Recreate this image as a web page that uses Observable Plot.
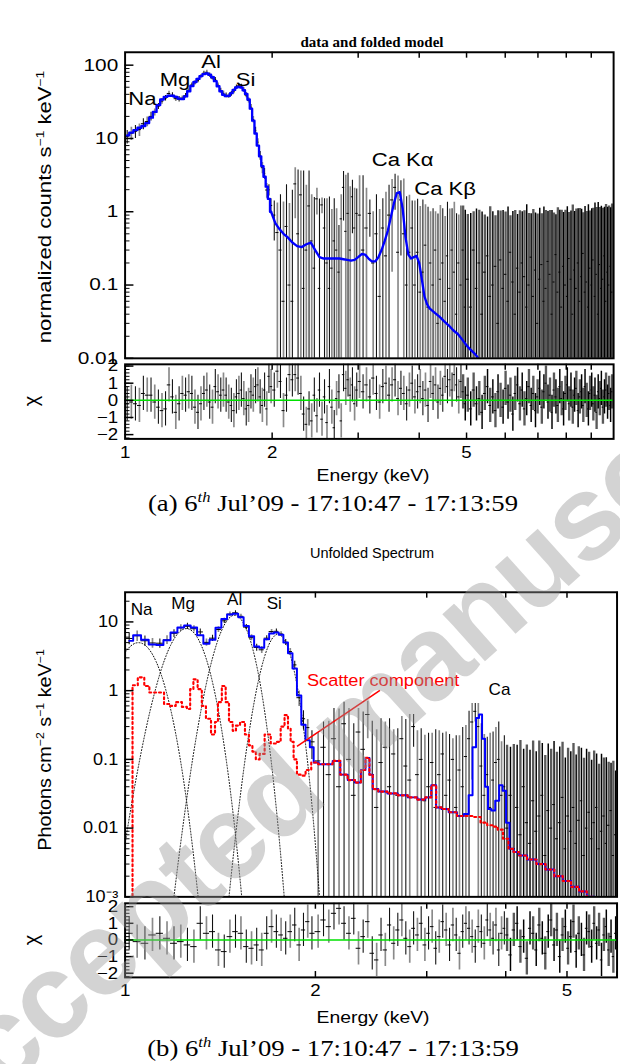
<!DOCTYPE html>
<html>
<head>
<meta charset="utf-8">
<script src="https://cdn.jsdelivr.net/npm/d3@7"></script>
<script src="https://cdn.jsdelivr.net/npm/@observablehq/plot@0.6"></script>
<style>
html, body { margin:0; padding:0; background:#fff; overflow:hidden; }
#page { position:relative; width:620px; height:1064px; overflow:hidden; background:#fff;
  font-family:"Liberation Sans", Arial, Helvetica, sans-serif; color:#000; }
.t { position:absolute; white-space:nowrap; line-height:1; }
.cap { font-family:"Liberation Serif","DejaVu Serif",serif; font-size:23px; }
sup { font-size:62%; vertical-align:0.6em; line-height:0; }
.wm { position:absolute; white-space:nowrap; font-family:"Liberation Sans", Arial, sans-serif; font-weight:bold;
  font-size:120px; letter-spacing:-2px; line-height:1; color:rgba(150,150,150,0.42); transform-origin:0 0; transform:rotate(-41.9deg); pointer-events:none; }
</style>
</head>
<body>
<div id="page"></div>
<script>
// ================= DATA : panel (a) "data and folded model" =================
// 1-2 keV bins
const eAlo = [1.01,1.03,1.05,1.07,1.09,1.11,1.13,1.15,1.17,1.19,1.21,1.23,1.25,1.27,1.29,1.31,1.33,1.35,1.37,1.39,1.41,1.43,1.45,1.47,1.49,1.51,1.53,1.55,1.57,1.59,1.61,1.63,1.65,1.67,1.69,1.71,1.73,1.75,1.77,1.79,1.81,1.83,1.85,1.87,1.89,1.91,1.93,1.95,1.97,1.99];
const rAlo = [10.6,11.8,12.5,13.2,15.9,17.0,20.0,22.7,27.5,32.3,35.5,41.1,38.9,34.9,34.4,35.5,38.3,45.5,53.4,57.4,62.0,70.1,77.5,80.0,73.5,66.7,63.9,53.3,45.0,41.3,38.7,37.9,40.6,44.0,50.2,52.4,51.5,45.8,39.0,33.2,26.7,18.1,12.8,8.9,5.86,3.99,3.33,1.98,1.99,1.22];
const dAlo = [2.2,2.4,2.5,2.6,2.7,2.6,2.7,2.5,2.6,2.9,3.0,3.1,3.1,3.0,2.9,2.6,2.7,3.1,3.5,3.9,4.3,4.6,4.9,5.0,4.9,4.6,4.2,3.7,3.3,3.0,2.9,2.9,3.0,3.3,3.4,3.5,3.4,3.3,3.0,2.7,2.4,1.9,1.4,1.0,0.8,0.7,0.55,0.45,0.35,0.28];
const cAlo = [-0.2,-0.1,-0.2,-0.3,0.4,0.3,0.3,-0.1,-0.4,-0.6,-0.5,0.9,0.2,-0.7,-0.2,0.4,0.3,0.5,0.4,-0.4,-0.7,-0.2,0.4,0.6,-0.1,-0.4,0.8,0.5,0.3,0.6,0.3,-0.1,-0.3,-0.6,0.2,0.4,0.6,0.1,-0.5,-0.3,0.5,0.3,0.8,0.9,0.2,-0.3,0.6,-0.5,1.4,0.8];
const mAlo = [11.0,12.0,13.0,14.0,14.8,16.2,19.2,23,28.5,34,37,38.3,38.3,37,35,34.5,37.5,44,52,59,65,71,75.5,77,74,68.5,60.5,51.5,44,39.5,37.8,38.2,41.5,46,49.5,51,49.5,45.5,40.5,34,25.5,17.5,11.7,8.0,5.7,4.2,3.0,2.2,1.5,1.0];
// 2-10 keV bins
const eAhi = [2.02,2.05,2.08,2.11,2.14,2.17,2.20,2.23,2.26,2.29,2.32,2.35,2.38,2.41,2.44,2.47,2.50,2.53,2.56,2.59,2.62,2.65,2.68,2.71,2.74,2.77,2.80,2.83,2.86,2.89,2.92,2.95,2.98,
  3.02,3.07,3.12,3.17,3.22,3.27,3.32,3.37,3.42,3.47,3.52,3.57,3.62,3.67,3.72,3.77,3.82,3.87,3.92,3.97,4.02,4.07,4.12,4.17,4.22,4.27,4.32,4.37,4.42,4.47,4.52,4.57,4.62,4.67,4.72,4.77,4.82,4.87,4.92,4.97,
  5.03,5.10,5.17,5.24,5.31,5.38,5.45,5.52,5.59,5.66,5.73,5.80,5.87,5.94,6.01,6.08,6.15,6.22,6.29,6.36,6.43,6.50,6.57,6.64,6.71,6.78,6.85,6.92,6.99,7.06,7.13,7.20,7.27,7.34,7.41,7.48,7.55,7.62,7.69,7.76,7.83,7.90,7.97,8.04,8.11,8.18,8.25,8.32,8.39,8.46,8.53,8.60,8.67,8.74,8.81,8.88,8.95,9.02,9.09,9.16,9.23,9.30,9.37,9.44,9.51,9.58,9.65,9.72,9.79,9.86,9.93];
const rAhi = [0.9,0.52,0.3,0.06,0.63,0.1,0.06,2.4,0.5,1.7,0.09,0.3,1.2,0.4,0.17,1.5,0.09,1.24,0.6,0.2,0.09,0.17,0.4,0.3,0.15,0.8,2.15,0.54,0.95,0.3,1.6,0.6,0.95,
  0.9,0.3,0.6,0.95,0.2,0.5,0.07,0.6,0.25,0.9,1.45,2.15,0.28,1.45,0.5,0.1,0.28,0.6,0.1,0.28,0.08,0.15,0.35,0.05,0.2,0.1,0.3,0.03,0.12,0.2,0.06,0.25,0.09,0.3,0.15,0.04,0.2,0.1,0.3,0.05,
  0.12,0.05,0.3,0.09,0.2,0.04,0.15,0.25,0.07,0.1,0.18,0.03,0.22,0.09,0.14,0.06,0.28,0.11,0.04,0.17,0.08,0.2,0.13,0.05,0.1,0.24,0.07,0.16,0.03,0.12,0.19,0.06,0.09,0.21,0.14,0.04,0.11,0.26,0.08,0.15,0.05,0.18,0.1,0.07,0.23,0.12,0.04,0.16,0.09,0.2,0.06,0.13,0.27,0.08,0.11,0.05,0.17,0.1,0.22,0.07,0.14,0.04,0.19,0.09,0.12,0.25,0.06,0.15,0.1,0.18,0.08];
const dAhi = [0.5,0.8,1.4,1.3,1.7,1.2,1.9,1.6,3.2,1.9,3.5,2.0,2.4,1.3,1.4,0.6,1.4,0.3,0.9,1.3,1.5,0.9,1.1,0.8,0.5,0.9,1.4,2.6,2.4,1.9,1.1,1.5,1.1,
  2.2,2.8,1.5,0.5,0.8,1.2,1.0,0.9,1.6,1.4,1.3,1.1,2.8,1.2,2.3,1.5,1.4,0.8,1.3,1.2,1.1,1.3,0.9,1.1,0.8,1.0,0.7,0.9,1.1,0.9,0.8,1.1,1.0,0.8,1.2,0.9,0.7,1.1,0.9,1.0,
  0.8,0.9,0.7,1.0,0.85,0.95,0.75,0.6,1.1,0.9,0.7,1.0,0.8,0.95,0.85,1.1,0.6,0.9,1.0,0.75,0.95,0.8,0.9,1.2,0.85,0.7,1.0,0.8,0.9,1.0,0.75,1.1,0.95,0.8,0.9,1.0,0.85,0.65,1.05,0.9,1.0,0.8,0.95,1.1,0.75,0.9,1.2,0.85,1.0,0.9,1.05,0.95,0.7,1.1,0.9,1.2,0.85,1.0,0.9,1.25,1.0,1.3,0.95,1.1,1.0,0.9,1.2,1.0,1.1,0.95,1.2];
const cAhi = [0.6,1.7,1.1,-0.6,0.3,1.5,1.2,1.5,1.3,0.4,-0.8,-1.4,-0.5,-1.2,0.3,-0.9,0.6,-1.1,0.2,-1.3,0.8,-0.4,-1.6,0.1,0.5,-1.2,1.5,0.7,1.2,0.3,0.9,-0.2,0.6,
  1.1,0.5,0.9,0.2,1.3,0.4,-0.1,0.8,1.0,0.3,0.9,1.2,0.1,0.7,0.4,-0.2,0.6,1.0,0.2,0.5,0.8,0.1,0.6,-0.3,1.1,0.4,0.9,-0.1,0.7,0.3,1.4,0.8,1.2,0.6,1.5,0.9,0.2,1.1,0.5,-0.2,
  0.3,-0.5,0.6,-0.2,0.1,-0.7,0.4,0.8,-0.3,0.2,-0.6,0.5,0.0,-0.4,0.7,-0.1,0.3,-0.8,0.4,0.9,-0.2,0.6,-0.5,0.1,0.8,-0.3,0.4,-0.6,0.2,0.7,-0.4,0.5,1.0,-0.1,0.3,-0.7,0.6,0.2,-0.3,0.8,0.1,-0.5,0.4,0.9,-0.2,0.6,-0.4,0.3,0.7,-0.6,0.2,0.5,-0.3,0.8,0.0,-0.5,0.4,0.6,-0.2,0.3,-0.7,0.5,0.1,0.7,-0.4,0.2,0.6,-0.1,0.4,-0.3,0.5];
// folded model above 2 keV
const mAhiE = [2.03,2.07,2.11,2.15,2.20,2.25,2.30,2.35,2.40,2.45,2.50,2.55,2.60,2.65,2.70,2.75,2.80,2.85,2.90,2.95,3.00,3.05,3.10,3.15,3.20,3.25,3.30,3.35,3.40,3.45,3.50,3.55,3.60,3.65,3.70,3.75,3.80,3.85,3.90,3.95,4.00,4.05,4.10,4.15,4.20,4.30,4.40,4.50,4.60,4.70,4.80,4.90,5.00,5.10,5.20,5.30,5.40];
const mAhiV = [0.7,0.58,0.5,0.45,0.38,0.34,0.33,0.36,0.38,0.3,0.24,0.23,0.23,0.23,0.23,0.23,0.225,0.22,0.215,0.22,0.24,0.265,0.26,0.23,0.21,0.21,0.24,0.3,0.4,0.55,0.85,1.3,1.8,1.85,1.1,0.45,0.26,0.23,0.24,0.25,0.2,0.12,0.07,0.055,0.048,0.042,0.037,0.032,0.028,0.024,0.0215,0.018,0.015,0.013,0.0115,0.0098,0.0085];
const labelsA = [{t:"Na",E:1.085,v:34},{t:"Mg",E:1.265,v:63},{t:"Al",E:1.50,v:110},{t:"Si",E:1.765,v:63},{t:"Ca K\u03b1",E:3.70,v:5.05},{t:"Ca K\u03b2",E:4.52,v:2.0}];
const yTicksA = [0.01,0.1,1,10,100];
const xTicksA = [2,3,4,5,6,7,8,9];
const xLabelsA = [1,2,5];
const chiTicks = [-2,-1,0,1,2];

// ================= DATA : panel (b) "Unfolded Spectrum" =================
const eBlo = [1.015,1.045,1.075,1.105,1.135,1.165,1.195,1.225,1.255,1.285,1.315,1.345,1.375,1.405,1.435,1.465,1.495,1.525,1.555,1.585,1.615,1.645,1.675,1.705,1.735,1.765,1.795,1.825,1.855,1.885,1.915,1.945,1.975];
const rBlo = [5.74,6.29,5.32,4.94,4.9,5.48,6.82,8.21,8.63,7.96,7.15,5.04,5.8,7.75,10.37,12.99,13.58,12.06,8.4,5.9,4.25,3.93,5.8,7.24,7.3,6.67,5.05,3.7,2.37,0.79,0.39,0.29,0.18];
const dBlo = [1.1,1.1,0.9,0.8,0.75,0.8,0.9,0.9,0.9,0.85,0.75,0.6,0.6,0.75,0.9,0.95,0.95,0.9,0.75,0.6,0.5,0.45,0.5,0.55,0.6,0.55,0.5,0.4,0.3,0.2,0.12,0.09,0.08];
const cBlo = [0.4,-0.1,-0.2,0.3,0.4,0.1,-0.2,-0.1,-0.3,-0.4,1.0,0.4,0.5,-0.6,-0.7,0.2,0.5,0.4,-0.4,-0.5,-0.3,-0.6,0.4,0.8,0.5,0.3,0.1,0.5,0.9,-0.3,0.6,1.1,0.4];
const mBlo = [5.3,6.4,5.5,4.7,4.6,5.4,7.0,8.3,8.9,8.3,6.4,4.8,5.5,8.2,11.0,12.8,13.1,11.7,8.7,6.2,4.4,4.2,5.6,6.8,7.0,6.5,5.0,3.5,2.1,0.85,0.32,0.19,0.15];
const eBhi = [2.02,2.06,2.10,2.14,2.18,2.22,2.26,2.30,2.34,2.38,2.42,2.46,2.50,2.54,2.58,2.62,2.66,2.70,2.74,2.78,2.82,2.86,2.90,2.94,2.98,
  3.02,3.06,3.10,3.14,3.18,3.22,3.26,3.30,3.34,3.38,3.42,3.46,3.50,3.54,3.58,3.62,3.66,3.70,3.74,3.78,3.82,3.86,3.90,3.94,3.98,
  4.02,4.07,4.12,4.17,4.22,4.27,4.32,4.37,4.42,4.47,4.52,4.57,4.62,4.67,4.72,4.77,4.82,4.87,4.92,4.97,5.02,5.07,5.12,5.17,5.22,5.27,5.32,5.37,5.42,5.47,5.52,5.57,5.62,5.67,5.72,5.77,5.82,5.87,5.92,5.97];
const rBhi = [0.095,0.15,0.06,0.2,0.04,0.33,0.1,0.03,0.25,0.14,0.45,0.06,0.02,0.09,0.15,0.04,0.12,0.03,0.2,0.08,0.05,0.3,0.06,0.1,0.025,
  0.04,0.09,0.02,0.06,0.12,0.03,0.05,0.1,0.02,0.07,0.04,0.11,0.2,0.35,0.5,0.3,0.08,0.03,0.06,0.02,0.05,0.09,0.1,0.03,0.04,
  0.01,0.03,0.005,0.02,0.008,0.04,0.012,0.006,0.025,0.009,0.015,0.03,0.004,0.018,0.01,0.022,0.007,0.012,0.028,0.005,0.015,0.009,0.02,0.006,0.013,0.025,0.004,0.01,0.017,0.007,0.012,0.02,0.005,0.009,0.015,0.006,0.011,0.018,0.004,0.008];
const dBhi = [0.15,0.2,0.3,0.35,0.5,0.35,0.45,0.3,0.3,0.35,0.25,0.3,0.25,0.3,0.2,0.35,0.15,0.25,0.22,0.3,0.4,0.15,0.2,0.18,0.2,
  0.2,0.15,0.25,0.2,0.12,0.22,0.18,0.1,0.2,0.15,0.25,0.2,0.3,0.3,0.15,0.35,0.25,0.2,0.15,0.22,0.2,0.2,0.25,0.15,0.18,
  0.15,0.12,0.16,0.14,0.18,0.1,0.15,0.13,0.16,0.12,0.17,0.14,0.11,0.15,0.13,0.16,0.12,0.14,0.15,0.1,0.13,0.12,0.15,0.11,0.14,0.12,0.1,0.13,0.11,0.09,0.12,0.1,0.08,0.11,0.09,0.1,0.08,0.07,0.09,0.06];
const cBhi = [0.5,1.2,0.8,1.6,1.9,1.0,0.4,1.3,-0.5,0.2,1.1,-0.8,-1.2,0.3,-0.6,0.9,-0.2,0.6,1.2,0.1,-0.4,0.7,0.3,1.0,-0.3,
  0.4,0.8,-0.5,0.2,1.1,0.6,-0.3,0.9,0.3,-0.8,0.5,1.0,0.7,0.2,-0.4,0.8,0.5,-0.2,1.2,0.6,0.1,0.9,-0.6,0.4,0.7,
  0.3,-0.9,0.6,1.0,-0.4,0.2,-1.1,0.7,0.4,-0.6,0.9,0.1,-0.8,0.5,1.2,-0.3,0.6,-1.0,0.3,0.8,-0.5,0.2,1.1,-0.7,0.4,0.0,-0.9,0.7,0.5,-0.4,1.0,-0.2,0.6,-1.2,0.3,0.8,-0.6,0.2,-1.0,0.4];
const mBhiE = [2.00,2.05,2.10,2.16,2.22,2.28,2.34,2.38,2.42,2.45,2.48,2.55,2.65,2.75,2.85,2.95,3.02,3.08,3.13,3.20,3.30,3.40,3.47,3.52,3.57,3.61,3.65,3.69,3.73,3.77,3.82,3.88,3.93,3.98,4.03,4.08,4.15,4.25,4.40,4.55,4.70,4.85,5.00,5.15,5.30,5.45,5.60,5.75,5.90];
const mBhiV = [0.09,0.085,0.085,0.095,0.06,0.05,0.046,0.07,0.105,0.06,0.037,0.034,0.032,0.03,0.028,0.026,0.028,0.042,0.02,0.019,0.017,0.015,0.016,0.03,0.15,0.4,0.45,0.2,0.04,0.019,0.018,0.025,0.042,0.035,0.012,0.005,0.0045,0.004,0.0035,0.003,0.0025,0.002,0.0017,0.0014,0.0012,0.001,0.00085,0.0007,0.0006];
// scatter component (red dotted)
const scatE = [1.02,1.035,1.06,1.085,1.10,1.14,1.165,1.19,1.215,1.245,1.26,1.275,1.29,1.315,1.33,1.355,1.38,1.395,1.41,1.435,1.45,1.47,1.49,1.505,1.535,1.56,1.58,1.60,1.62,1.645,1.68,1.72,1.75,1.775,1.80,1.82,1.835,1.86,1.88,1.91,1.95,1.99,
  2.05,2.10,2.16,2.22,2.28,2.34,2.38,2.42,2.45,2.48,2.55,2.65,2.75,2.85,2.95,3.02,3.08,3.13,3.20,3.30,3.40,3.50,3.60,3.70,3.78,3.85,3.92,4.00,4.08,4.15,4.25,4.40,4.55,4.70,4.85,5.00,5.15,5.30,5.45,5.60,5.75,5.90];
const scatV = [0.0008,1.2,1.56,1.17,0.94,0.94,0.64,0.6,0.68,0.58,0.54,1.05,1.46,1.05,0.6,0.39,0.23,0.35,0.68,1.17,0.68,0.35,0.26,0.31,0.35,0.23,0.16,0.13,0.1,0.12,0.23,0.17,0.18,0.3,0.44,0.28,0.18,0.1,0.06,0.058,0.07,0.09,
  0.085,0.085,0.095,0.06,0.05,0.046,0.07,0.105,0.06,0.037,0.034,0.032,0.03,0.028,0.026,0.028,0.042,0.02,0.019,0.017,0.015,0.015,0.0145,0.012,0.011,0.0105,0.0095,0.007,0.005,0.0045,0.004,0.0035,0.003,0.0025,0.002,0.0017,0.0014,0.0012,0.001,0.00085,0.0007,0.0006];
// line components (black dotted): [energy, photons]
const naComp = [[1.00,3.6],[1.02,4.44],[1.04,4.93],[1.06,4.93],[1.08,4.44],[1.10,3.6],[1.12,2.63],[1.14,1.73],[1.16,1.02],[1.18,0.544],[1.20,0.261],[1.22,0.113],[1.24,0.0438],[1.26,0.0153],[1.28,0.00483],[1.30,0.00137],[1.32,0.00035]];
const mgComp = [[1.00,0.006],[1.02,0.0181],[1.04,0.0499],[1.06,0.125],[1.08,0.287],[1.10,0.6],[1.12,1.14],[1.14,1.99],[1.16,3.15],[1.18,4.55],[1.20,6.0],[1.22,7.21],[1.24,7.91],[1.26,7.91],[1.28,7.21],[1.30,6.0],[1.32,4.55],[1.34,3.15],[1.36,1.99],[1.38,1.14],[1.40,0.6],[1.42,0.287],[1.44,0.125],[1.46,0.0499],[1.48,0.0181],[1.50,0.006],[1.52,0.00181],[1.54,0.0005]];
const alComp = [[1.18,0.00038],[1.20,0.00139],[1.22,0.00469],[1.24,0.0144],[1.26,0.0408],[1.28,0.106],[1.30,0.251],[1.32,0.548],[1.34,1.10],[1.36,2.01],[1.38,3.37],[1.40,5.20],[1.42,7.36],[1.44,9.54],[1.46,11.3],[1.48,12.4],[1.50,12.4],[1.52,11.3],[1.54,9.54],[1.56,7.36],[1.58,5.20],[1.60,3.37],[1.62,2.01],[1.64,1.10],[1.66,0.548],[1.68,0.251],[1.70,0.106],[1.72,0.0408],[1.74,0.0144],[1.76,0.00469],[1.78,0.00139],[1.80,0.00038]];
const siComp = [[1.44,0.00028],[1.46,0.001],[1.48,0.0033],[1.50,0.00996],[1.52,0.0275],[1.54,0.0699],[1.56,0.163],[1.58,0.346],[1.60,0.678],[1.62,1.22],[1.64,2.0],[1.66,3.02],[1.68,4.18],[1.70,5.3],[1.72,6.17],[1.74,6.59],[1.76,6.44],[1.78,5.78],[1.80,4.76],[1.82,3.59],[1.84,2.48],[1.86,1.58],[1.88,0.918],[1.90,0.49],[1.92,0.24],[1.94,0.108],[1.96,0.0443],[1.98,0.0167],[2.00,0.0058],[2.02,0.00184],[2.04,0.00054]];
const labelsB = [{t:"Na",E:1.062,v:14.9},{t:"Mg",E:1.235,v:18.2},{t:"Al",E:1.49,v:20.7},{t:"Si",E:1.722,v:18.2},{t:"Ca",E:3.91,v:1.04}];
const scatterLabel = [{t:"Scatter component",E:2.56,v:1.40}];
const scatterArrow = [{E1:1.87,v1:0.155,E2:2.53,v2:1.01}];
const yTicksB = [0.001,0.01,0.1,1,10];
const xTicksB = [2,3,4,5,6];
const xLabelsB = [1,2,5];

// ================= DRAWING =================
const page = document.getElementById("page");
const FONT = '"Liberation Sans", Arial, Helvetica, sans-serif';
const fmt = d3.format("~g");
const W = 632;

function addText(html, x, y, opts) {
  const {rot = false, sx = 1, style = {}, cls = ""} = opts || {};
  const d = document.createElement("div");
  d.className = "t " + cls;
  d.innerHTML = html;
  d.style.left = x + "px"; d.style.top = y + "px";
  d.style.transform = "translate(-50%,-50%)" + (rot ? " rotate(-90deg)" : "") + " scaleX(" + sx + ")";
  Object.assign(d.style, style);
  page.appendChild(d);
}
function addPlot(svg, top) {
  svg.style.position = "absolute"; svg.style.left = "0px"; svg.style.top = top + "px";
  page.appendChild(svg);
}
// widen the glyphs of the plot texts (the reference typeface is wider than Liberation Sans)
function stretch(svg, k) {
  svg.querySelectorAll("text").forEach(t => {
    let L = 0;
    try { L = t.getComputedTextLength(); } catch (e) { L = 0; }
    if (L > 0) { t.setAttribute("textLength", (L * k).toFixed(1)); t.setAttribute("lengthAdjust", "spacingAndGlyphs"); }
  });
}
function mkRows(E, R, D, C) {
  return E.map((e, i) => {
    const lo = i > 0 ? Math.sqrt(E[i - 1] * e) : e / Math.sqrt(E[i + 1] / e);
    const hi = i < E.length - 1 ? Math.sqrt(e * E[i + 1]) : e * Math.sqrt(e / E[i - 1]);
    return {E: e, r: R[i], d: D[i], c: C[i], lo, hi, k: i};
  });
}
function logMinors(decades, lo, hi) {
  const out = [];
  for (const d of decades) for (let m = 2; m < 10; m++) { const v = d * m; if (v > lo && v < hi) out.push(+v.toPrecision(3)); }
  return out;
}
function chiMinors(lo, hi) { const out = []; for (let v = -2.2; v <= 2.21; v += 0.2) if (v > lo && v < hi) out.push(+v.toFixed(1)); return out; }

function errBars(rows, yDomMin, field, denseFrom) {
  const y1 = field === "c" ? (d => d.c - 1) : (d => Math.max(d.r - d.d, yDomMin / 20));
  const y2 = field === "c" ? (d => d.c + 1) : (d => d.r + d.d);
  const sparse = rows.filter(d => d.E < denseFrom), dense = rows.filter(d => d.E >= denseFrom);
  return [
    Plot.ruleX(sparse.filter(d => d.k % 2), {x: "E", y1, y2, stroke: "#8a8a8a", strokeWidth: 1.7, clip: true}),
    Plot.ruleX(sparse.filter(d => !(d.k % 2)), {x: "E", y1, y2, stroke: "#111", strokeWidth: 1.1, clip: true}),
    Plot.ruleX(dense.filter(d => d.k % 2), {x: "E", y1, y2, stroke: "#5a5a5a", strokeWidth: 2.4, clip: true}),
    Plot.ruleX(dense.filter(d => !(d.k % 2)), {x: "E", y1, y2, stroke: "#000", strokeWidth: 1.5, clip: true}),
    Plot.ruleY(rows, {y: field, x1: "lo", x2: "hi", stroke: "#000", strokeWidth: 1, clip: true})
  ];
}
function edgeTicks(fw, fh, xt, yMaj, yMin, top, bottom) {
  const m = [
    Plot.ruleY(yMaj, {y: d => d, insetRight: fw - 9, stroke: "#000", strokeWidth: 1.5}),
    Plot.ruleY(yMin, {y: d => d, insetRight: fw - 5, stroke: "#000", strokeWidth: 1})
  ];
  if (top) m.push(Plot.ruleX(xt, {x: d => d, insetBottom: fh - 6, stroke: "#000", strokeWidth: 1.5}));
  if (bottom) m.push(Plot.ruleX(xt, {x: d => d, insetTop: fh - 6, stroke: "#000", strokeWidth: 1.5}));
  return m;
}
const styleSvg = {background: "transparent", overflow: "visible", fontFamily: FONT};

// ---------- panel (a) ----------
const rowsA = mkRows(eAlo.concat(eAhi), rAlo.concat(rAhi), dAlo.concat(dAhi), cAlo.concat(cAhi));
const modelALo = eAlo.map((e, i) => ({E: e, v: mAlo[i]}));
const modelAHi = [{E: eAlo[eAlo.length - 1], v: mAlo[mAlo.length - 1]}].concat(mAhiE.map((e, i) => ({E: e, v: mAhiV[i]})));
const AX0 = 127, AX1 = 625, FWA = AX1 - AX0;
const aTop = Plot.plot({
  width: W, height: 12 + 312 + 6, marginLeft: AX0, marginRight: W - AX1, marginTop: 12, marginBottom: 6,
  x: {type: "log", domain: [1, 10], axis: null},
  y: {type: "log", domain: [0.01, 150], axis: null},
  style: styleSvg,
  marks: [
    ...errBars(rowsA, 0.01, "r", 4.9),
    Plot.line(modelALo, {x: "E", y: "v", curve: "step", stroke: "#0000ff", strokeWidth: 2.4, clip: true}),
    Plot.line(modelAHi, {x: "E", y: "v", curve: "linear", stroke: "#0000ff", strokeWidth: 2.4, clip: true}),
    Plot.text(labelsA, {x: "E", y: "v", text: "t", fontSize: 18, fill: "#000"}),
    Plot.frame({stroke: "#000", strokeWidth: 2}),
    ...edgeTicks(FWA, 312, xTicksA, yTicksA, logMinors(yTicksA, 0.01, 150), true, false),
    Plot.text(yTicksA, {y: d => d, text: d => fmt(d), frameAnchor: "left", textAnchor: "end", dx: -7, fontSize: 17})
  ]
});
addPlot(aTop, 40);
stretch(aTop, 1.25);

const aRes = Plot.plot({
  width: W, height: 8 + 76 + 30, marginLeft: AX0, marginRight: W - AX1, marginTop: 8, marginBottom: 30,
  x: {type: "log", domain: [1, 10], axis: null},
  y: {domain: [-2.25, 2.1], axis: null},
  style: styleSvg,
  marks: [
    ...errBars(rowsA, 0, "c", 4.9),
    Plot.ruleY([0], {stroke: "#00e000", strokeWidth: 1.6}),
    Plot.frame({stroke: "#000", strokeWidth: 2}),
    ...edgeTicks(FWA, 76, xTicksA, chiTicks, chiMinors(-2.25, 2.1), true, true),
    Plot.text(chiTicks, {y: d => d, text: d => fmt(d), frameAnchor: "left", textAnchor: "end", dx: -7, fontSize: 17}),
    Plot.text(xLabelsA, {x: d => d, text: d => fmt(d), frameAnchor: "bottom", lineAnchor: "top", dy: 7, fontSize: 17})
  ]
});
addPlot(aRes, 356);
stretch(aRes, 1.12);

// ---------- panel (b) ----------
const rowsB = mkRows(eBlo.concat(eBhi), rBlo.concat(rBhi), dBlo.concat(dBhi), cBlo.concat(cBhi));
const modelBLo = eBlo.map((e, i) => ({E: e, v: mBlo[i]}));
const modelBHi = [{E: eBlo[eBlo.length - 1], v: mBlo[mBlo.length - 1]}].concat(mBhiE.map((e, i) => ({E: e, v: mBhiV[i]})));
const scat = scatE.map((e, i) => ({E: e, v: scatV[i]}));
const BX0 = 127, BX1 = 628.5, FWB = BX1 - BX0;
const fmtB = d => d === 0.001 ? "10\u207b\u00b3" : fmt(d);
const compMark = c => Plot.line(c, {x: d => d[0], y: d => d[1], curve: "catmull-rom", stroke: "#000", strokeWidth: 1, strokeDasharray: "1,2", clip: true});
const bTop = Plot.plot({
  width: W, height: 12 + 310.5 + 6, marginLeft: BX0, marginRight: W - BX1, marginTop: 12, marginBottom: 6,
  x: {type: "log", domain: [1, 6], axis: null},
  y: {type: "log", domain: [0.001, 27], axis: null},
  style: styleSvg,
  marks: [
    ...errBars(rowsB, 0.001, "r", 4.0),
    compMark(naComp), compMark(mgComp), compMark(alComp), compMark(siComp),
    Plot.line(modelBLo, {x: "E", y: "v", curve: "step", stroke: "#0000ff", strokeWidth: 2, clip: true}),
    Plot.line(modelBHi, {x: "E", y: "v", curve: "step", stroke: "#0000ff", strokeWidth: 2, clip: true}),
    Plot.line(scat, {x: "E", y: "v", curve: "step", stroke: "#ff0000", strokeWidth: 2.2, strokeDasharray: "2,3", clip: true}),
    Plot.link(scatterArrow, {x1: "E1", y1: "v1", x2: "E2", y2: "v2", stroke: "#ff0000", strokeWidth: 1.6}),
    Plot.text(scatterLabel, {x: "E", y: "v", text: "t", fontSize: 17, fill: "#ff0000"}),
    Plot.text(labelsB, {x: "E", y: "v", text: "t", fontSize: 16, fill: "#000"}),
    Plot.frame({stroke: "#000", strokeWidth: 2}),
    ...edgeTicks(FWB, 310.5, xTicksB, yTicksB, logMinors(yTicksB, 0.001, 27), true, false),
    Plot.text(yTicksB, {y: d => d, text: fmtB, frameAnchor: "left", textAnchor: "end", dx: -7, fontSize: 17})
  ]
});
addPlot(bTop, 580);
stretch(bTop, 1.09);

const bRes = Plot.plot({
  width: W, height: 8 + 75.5 + 30, marginLeft: BX0, marginRight: W - BX1, marginTop: 8, marginBottom: 30,
  x: {type: "log", domain: [1, 6], axis: null},
  y: {domain: [-2.25, 2.2], axis: null},
  style: styleSvg,
  marks: [
    ...errBars(rowsB, 0, "c", 4.0),
    Plot.ruleY([0], {stroke: "#00e000", strokeWidth: 1.6}),
    Plot.frame({stroke: "#000", strokeWidth: 2}),
    ...edgeTicks(FWB, 75.5, xTicksB, chiTicks, chiMinors(-2.25, 2.2), true, true),
    Plot.text(chiTicks, {y: d => d, text: d => fmt(d), frameAnchor: "left", textAnchor: "end", dx: -7, fontSize: 17}),
    Plot.text(xLabelsB, {x: d => d, text: d => fmt(d), frameAnchor: "bottom", lineAnchor: "top", dy: 7, fontSize: 17})
  ]
});
addPlot(bRes, 894.5);
stretch(bRes, 1.12);

// ---------- titles, axis labels, captions ----------
addText("data and folded model", 372, 42, {style: {fontFamily: '"Liberation Serif", serif', fontWeight: "bold", fontSize: "15px"}});
addText("normalized counts s<sup>\u22121</sup> keV<sup>\u22121</sup>", 45, 207, {rot: true, sx: 1.23, style: {fontSize: "18px"}});
addText("\u03c7", 31, 401, {rot: true, style: {fontSize: "20px"}});
addText("Energy (keV)", 373, 475, {sx: 1.14, style: {fontSize: "17px"}});
addText("(a) 6<sup><i>th</i></sup> Jul\u201909 - 17:10:47 - 17:13:59", 333, 503, {cls: "cap", sx: 1.16});

addText("Unfolded Spectrum", 372, 553, {style: {fontSize: "14.5px"}});
addText("Photons cm<sup>\u22122</sup> s<sup>\u22121</sup> keV<sup>\u22121</sup>", 45, 750, {rot: true, sx: 1.1, style: {fontSize: "18px"}});
addText("\u03c7", 31, 940, {rot: true, style: {fontSize: "20px"}});
addText("Energy (keV)", 373, 1017, {sx: 1.14, style: {fontSize: "17px"}});
addText("(b) 6<sup><i>th</i></sup> Jul\u201909 - 17:10:47 - 17:13:59", 333, 1048, {cls: "cap", sx: 1.16});

// ---------- watermark ----------
const wm = document.createElement("div");
wm.className = "wm";
wm.textContent = "Accepted manuscript";
wm.style.left = "-129px"; wm.style.top = "1075px";
page.appendChild(wm);
</script>
</body>
</html>
